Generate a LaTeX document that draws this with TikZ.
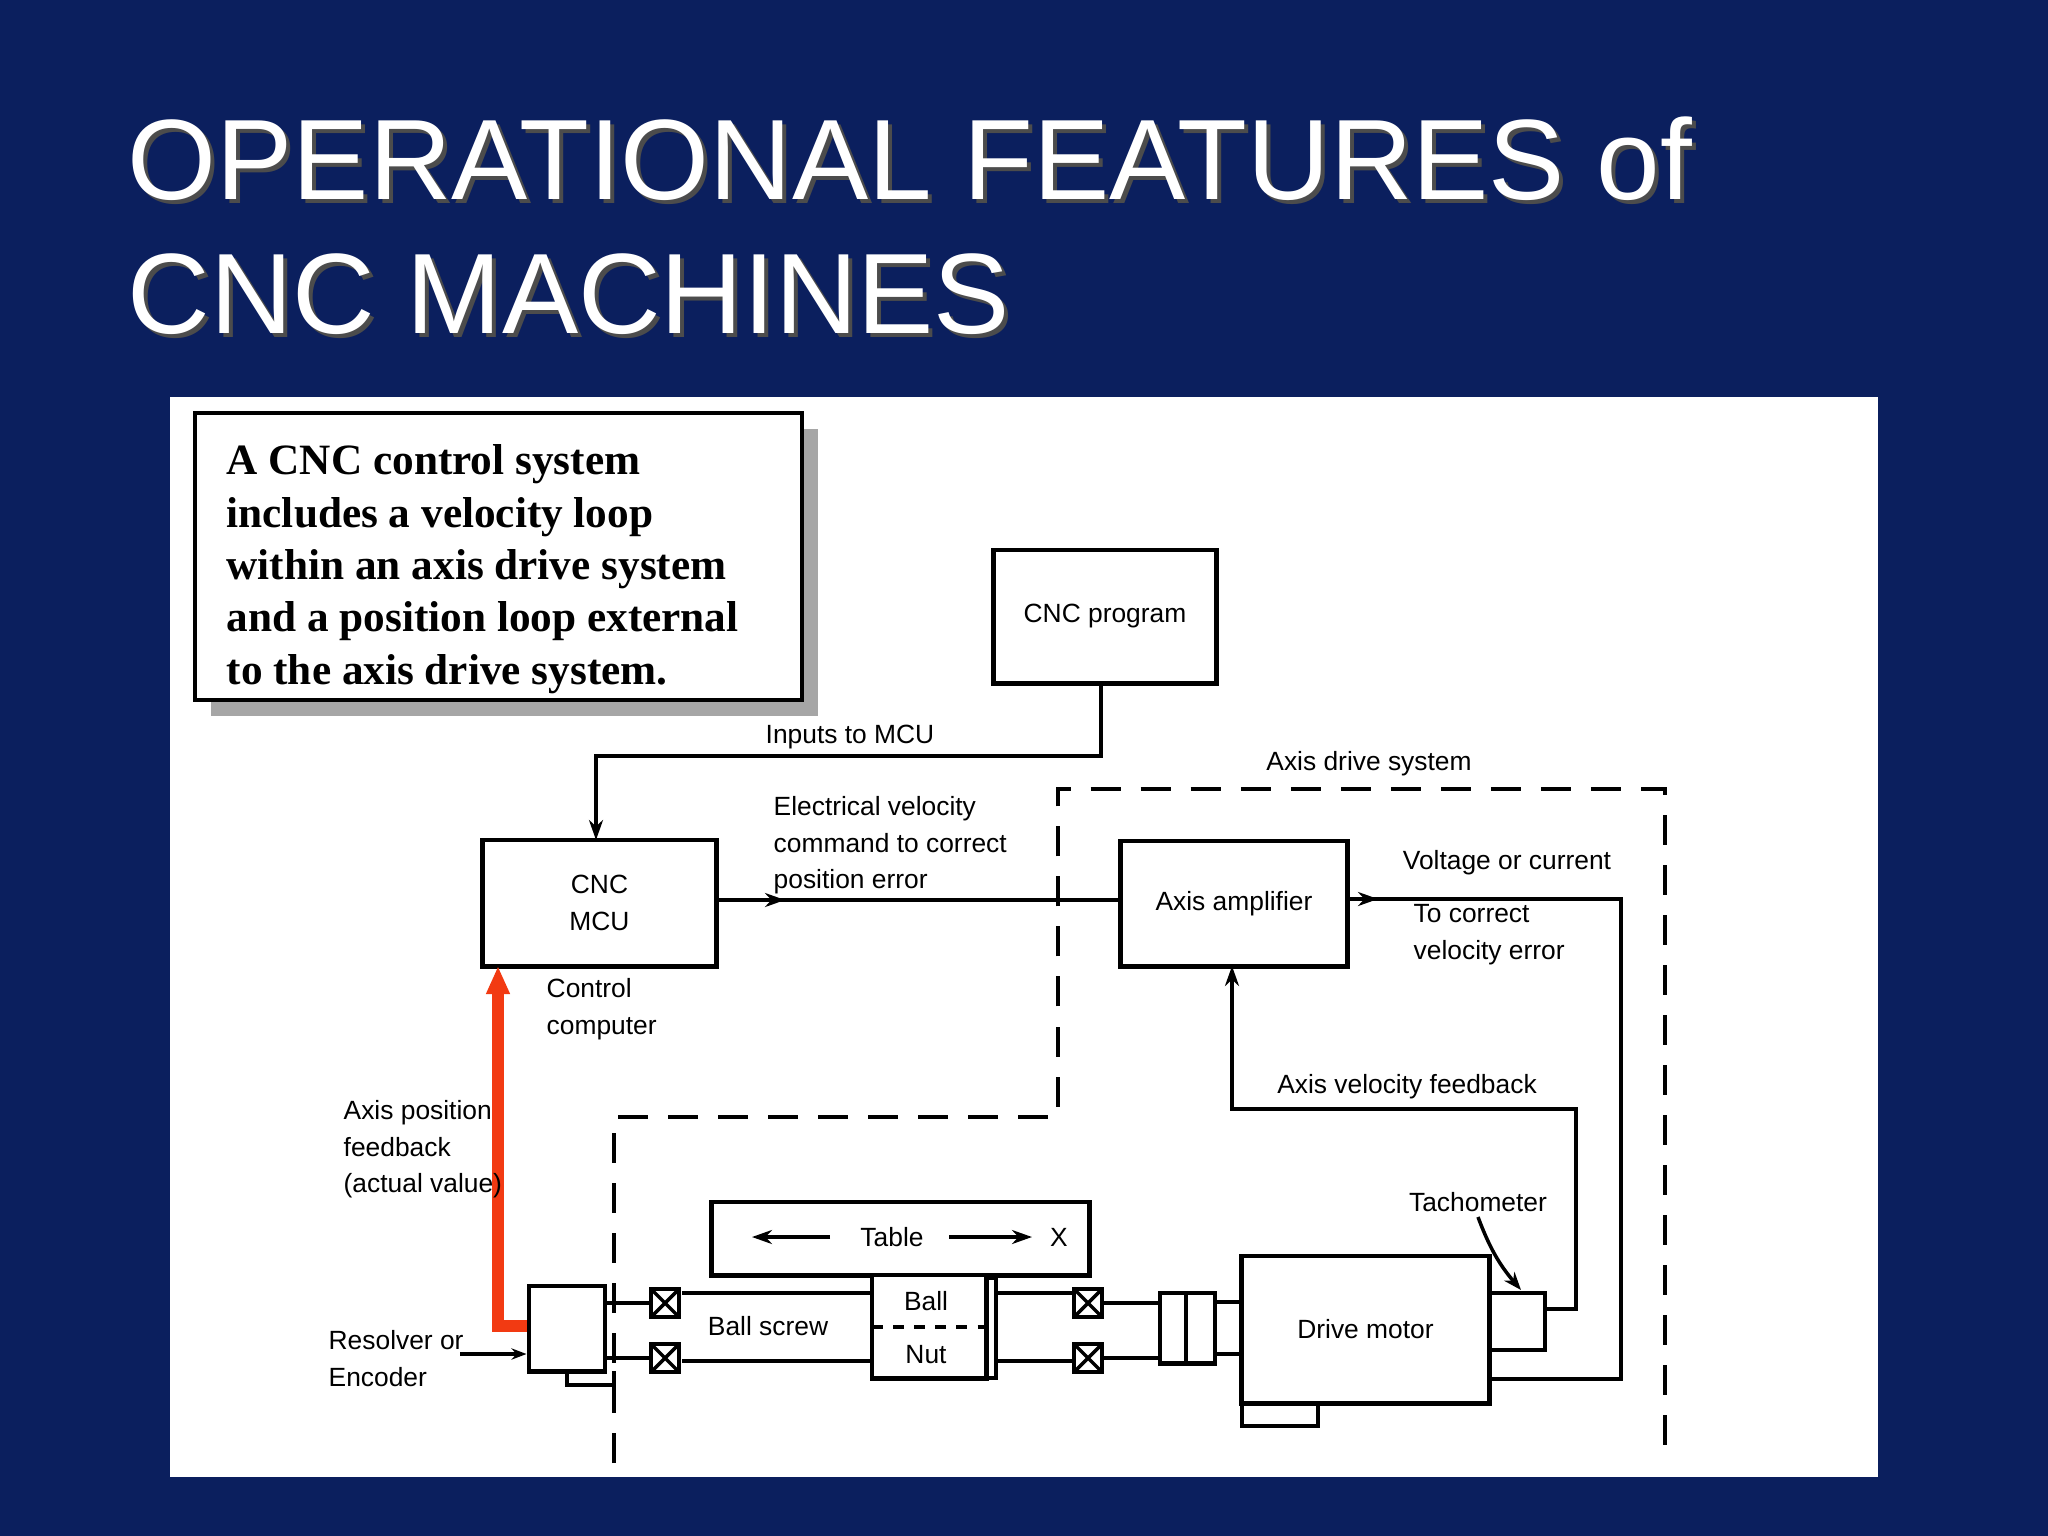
\documentclass[tikz,border=0pt]{standalone}
\usepackage{fontspec}
\setmainfont{Liberation Sans}
\newfontfamily\serifb{Liberation Serif}
\usetikzlibrary{arrows.meta,shadows}
\definecolor{bgblue}{HTML}{0B1F5E}
\definecolor{redarrow}{HTML}{F23A12}
\tikzset{
 ln/.style={line width=1.4pt},
 arr/.style={ln,-{Stealth[length=0.2cm,width=0.14cm]}},
 boxx/.style={draw,ln,fill=white,inner sep=0pt},
 lab/.style={font=\fontsize{7.5}{10.3}\selectfont,align=left,inner sep=0pt},
 dsh/.style={line width=1.2pt,dash pattern=on 0.3cm off 0.2cm},
}
\begin{document}
\begin{tikzpicture}[x=0.01cm,y=-0.01cm]
\fill[bgblue] (0,0) rectangle (2048,1536);
\useasboundingbox (0,0) rectangle (2048,1536);
% title
\foreach \dx/\c in {4/black!70,0/white}{
 \node[anchor=base west,inner sep=0pt,text=\c,font=\fontsize{32.5}{32.5}\selectfont] (t1\dx) at (127+\dx,199+\dx) {OPERATIONAL FEATURES of};
 \node[anchor=base west,inner sep=0pt,text=\c,font=\fontsize{32.5}{32.5}\selectfont] (t2\dx) at (127+\dx,333+\dx) {CNC MACHINES};
}
\fill[white] (170,397) rectangle (1878,1477);
% text box
\fill[gray!70] (211,429) rectangle (818,716);
\draw[fill=white,line width=1pt] (195,413) rectangle (802,700);
\node[anchor=north west,align=left,inner sep=0pt,font=\serifb\bfseries\fontsize{12.3}{14.9}\selectfont] (txt) at (226,444)
 {A CNC control system\\includes a velocity loop\\within an axis drive system\\and a position loop external\\to the axis drive system.};
% dashed axis drive system
\draw[dsh] (614,1463) -- (614,1117) -- (1058,1117) -- (1058,789) -- (1665,789) -- (1665,1463);
\node[lab] (ads) at (1369,764) {Axis drive system};
% boxes
\node[boxx,minimum width=2.22cm,minimum height=1.33cm,lab,align=center] (prog) at (1105,616.5) {CNC program};
\node[boxx,minimum width=2.33cm,minimum height=1.26cm,lab,align=center] (mcu) at (599.5,903) {CNC\\MCU};
\node[boxx,minimum width=2.26cm,minimum height=1.25cm,lab,align=center] (amp) at (1234,903.5) {Axis amplifier};
\coordinate (c1) at (1101,756);
\draw[arr] (prog.south -| c1) -- (c1) -- (596,756) -- (596,840);
\node[lab] (inp) at (850,737) {Inputs to MCU};
\node[lab,anchor=north west] (cc) at (546,978) {Control\\computer};
\draw[ln] (mcu.east |- 0,900) -- (amp.west |- 0,900);
\draw[arr] (716,900) -- (785,900);
\node[lab,anchor=north west] (ev) at (773,796) {Electrical velocity\\command to correct\\position error};
% motor etc
\node[boxx,minimum width=2.47cm,minimum height=1.47cm,lab,align=center] (motor) at (1365.5,1329.5) {Drive motor};
\draw[ln] (1242,1403) rectangle (1318,1426);
\node[boxx,minimum width=0.55cm,minimum height=0.57cm] (tach) at (1517.5,1321.5) {};
\draw[ln] (1347,899) -- (1621,899) -- (1621,1379) -- (1489,1379);
\draw[arr] (1347,899) -- (1378,899);
\node[lab] (voc) at (1507,863) {Voltage or current};
\node[lab,anchor=north west] (tcv) at (1413,904) {To correct\\velocity error};
\draw[arr] (tach.east |- 0,1309) -- (1576,1309) -- (1576,1109) -- (1232,1109) -- (1232,966);
\node[lab] (avf) at (1407,1087) {Axis velocity feedback};
\node[lab] (tl) at (1478,1202) {Tachometer};
\draw[line width=1pt,-{Stealth[length=0.18cm]}] (1478,1217) to[bend right=10] (1521,1290);
% table
\node[boxx,minimum width=3.77cm,minimum height=0.73cm] (table) at (900.5,1238.5) {};
\node[lab] (tt) at (892,1237) {Table};
\draw[arr] (830,1237) -- (752,1237);
\draw[arr] (949,1237) -- (1032,1237);
\node[lab] (xx) at (1059,1237) {X};
% ball screw
\draw[ln] (682,1293) -- (872,1293);
\draw[ln] (682,1361) -- (872,1361);
\node[lab] (bs) at (768,1326) {Ball screw};
\node[boxx,minimum width=1.14cm,minimum height=1.03cm] (bn) at (929,1326.5) {};
\draw[ln] (986,1278) rectangle (996,1378);
\draw[ln,dashed] (872,1327) -- (996,1327);
\node[lab] (ball) at (926,1301) {Ball};
\node[lab] (nut) at (926,1355) {Nut};
\draw[ln] (996,1293) -- (1075,1293);
\draw[ln] (996,1361) -- (1075,1361);
% bearings
\foreach \bx/\by [count=\i] in {665/1303,665/1358,1088/1303,1088/1358}{
 \draw[ln,fill=white] (\bx-14,\by-14) rectangle (\bx+14,\by+14);
 \draw[line width=1pt] (\bx-14,\by-14) -- (\bx+14,\by+14) (\bx-14,\by+14) -- (\bx+14,\by-14);
}
% coupling
\draw[ln] (1102,1303) -- (1160,1303) (1102,1358) -- (1160,1358);
\node[boxx,minimum width=0.55cm,minimum height=0.70cm] (coup) at (1187.5,1328) {};
\draw[ln] (1186,1293) -- (1186,1363);
\draw[ln] (1215,1302) -- (1242,1302) (1215,1354) -- (1242,1354);
% encoder
\node[boxx,minimum width=0.76cm,minimum height=0.85cm] (enc) at (567,1328.5) {};
\draw[ln] (567,1371) -- (567,1385) -- (614,1385) -- (614,1371);
\draw[ln] (605,1303) -- (651,1303) (605,1358) -- (651,1358);
\draw[line width=3.5pt,redarrow,-{Triangle[length=0.28cm,width=0.22cm]}] (enc.west |- 0,1326) -- (498,1326) -- (498,966);
\node[lab,anchor=north west] (apf) at (343,1100) {Axis position\\feedback\\(actual value)};
\node[lab,anchor=north west] (roe) at (328,1330) {Resolver or\\Encoder};
\draw[line width=1pt,-{Stealth[length=0.15cm]}] (460,1354) -- (enc.west |- 0,1354);
\end{tikzpicture}
\end{document}
